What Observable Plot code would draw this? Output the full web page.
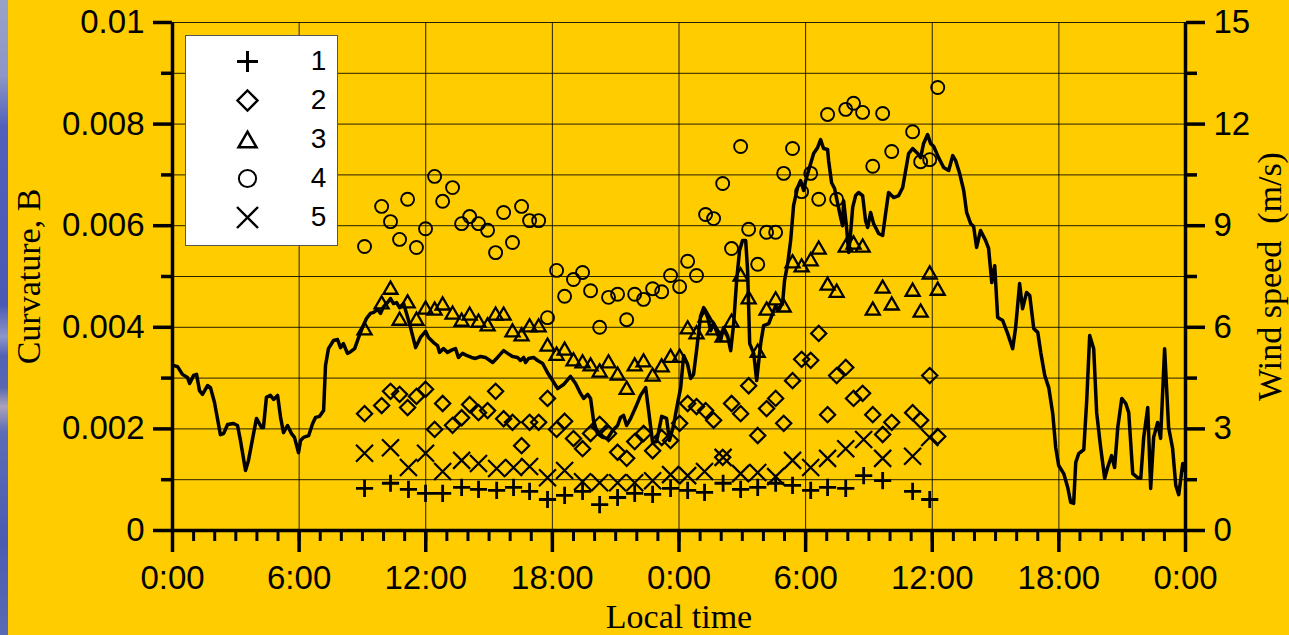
<!DOCTYPE html>
<html>
<head>
<meta charset="utf-8">
<script src="https://cdn.jsdelivr.net/npm/d3@7"></script>
<script src="https://cdn.jsdelivr.net/npm/@observablehq/plot@0.6"></script>
<style>
  html, body { margin: 0; padding: 0; background: #FFCC00; }
  #wrap { position: relative; width: 1289px; height: 635px; overflow: hidden; background: #FFCC00; }
  #strip {
    position: absolute; left: 0; top: 0; width: 8px; height: 635px;
    background: linear-gradient(to bottom, #9aa2c8 0%, #8d96c6 12%, #5060bb 20%, #4b59b6 48%,
      #8e96c9 53%, #5262b6 56%, #5967b2 61%, #aaa2b9 64%, #5d6cb6 68%, #4c5bb2 85%, #5a6ab4 100%);
  }
  #legend {
    position: absolute; left: 185px; top: 35px; width: 151px; height: 209px;
    background: #fff; border: 1px solid #555;
  }
  #legend svg { display: block; }
</style>
</head>
<body>
<div id="wrap"><div id="strip"></div><div id="legend"></div></div>
<script>
// ---- data -------------------------------------------------------------
const seriesNames = ["1", "2", "3", "4", "5"];

const timeLabels = ["0:00", "6:00", "12:00", "18:00", "0:00", "6:00", "12:00", "18:00", "0:00"];
const curvatureLabels = ["0", "0.002", "0.004", "0.006", "0.008", "0.01"];
const windLabels = ["0", "3", "6", "9", "12", "15"];

// sampling times (hours since the first midnight) for series 1 and 5
const hoursA = [9.10, 10.33, 11.18, 11.99, 12.80, 13.70, 14.50, 15.36, 16.16, 16.92,
  17.77, 18.58, 19.43, 20.24, 21.09, 21.90, 22.75, 23.60, 24.41, 25.21,
  26.09, 26.92, 27.73, 28.58, 29.38, 30.24, 31.04, 31.90, 32.75, 33.65,
  35.07, 35.88];

// sampling times for series 2, 3 and 4
const hoursB = [9.10, 9.91, 10.33, 10.76, 11.14, 11.56, 11.99, 12.42, 12.80, 13.27,
  13.70, 14.08, 14.50, 14.93, 15.31, 15.69, 16.11, 16.54, 16.92, 17.35,
  17.77, 18.20, 18.58, 19.00, 19.43, 19.81, 20.24, 20.66, 21.09, 21.52,
  21.90, 22.32, 22.75, 23.18, 23.60, 24.03, 24.41, 24.83, 25.26, 25.64,
  26.07, 26.49, 26.92, 27.30, 27.73, 28.15, 28.58, 28.96, 29.38, 29.81,
  30.24, 30.62, 31.04, 31.47, 31.90, 32.27, 32.70, 33.18, 33.65, 34.08,
  35.07, 35.45, 35.88, 36.26];

const curvature1 = [0.00083, 0.00093, 0.00081, 0.00073, 0.00073, 0.00085, 0.00081, 0.00079, 0.00085, 0.00077,
  0.00061, 0.00069, 0.00077, 0.00051, 0.00065, 0.00073, 0.00071, 0.00083, 0.00079, 0.00075,
  0.00093, 0.00081, 0.00085, 0.00093, 0.00089, 0.00079, 0.00085, 0.00083, 0.00108, 0.00098,
  0.00077, 0.00061];

const curvature2 = [0.00230, 0.00246, 0.00274, 0.00268, 0.00242, 0.00264, 0.00278, 0.00199, 0.00250, 0.00207,
  0.00222, 0.00248, 0.00232, 0.00236, 0.00274, 0.00220, 0.00213, 0.00167, 0.00213, 0.00213,
  0.00260, 0.00199, 0.00215, 0.00181, 0.00161, 0.00191, 0.00209, 0.00191, 0.00154, 0.00142,
  0.00175, 0.00191, 0.00157, 0.00183, 0.00177, 0.00211, 0.00250, 0.00244, 0.00236, 0.00217,
  0.00144, 0.00250, 0.00230, 0.00285, 0.00187, 0.00240, 0.00260, 0.00211, 0.00295, 0.00337,
  0.00335, 0.00388, 0.00228, 0.00305, 0.00321, 0.00260, 0.00270, 0.00228, 0.00189, 0.00213,
  0.00232, 0.00217, 0.00305, 0.00185];

const curvature3 = [0.00398, 0.00449, 0.00478, 0.00417, 0.00451, 0.00417, 0.00439, 0.00437, 0.00447, 0.00429,
  0.00415, 0.00427, 0.00413, 0.00406, 0.00427, 0.00427, 0.00394, 0.00386, 0.00404, 0.00404,
  0.00366, 0.00348, 0.00358, 0.00337, 0.00333, 0.00327, 0.00315, 0.00333, 0.00309, 0.00281,
  0.00327, 0.00335, 0.00307, 0.00325, 0.00344, 0.00344, 0.00400, 0.00390, 0.00423, 0.00398,
  0.00384, 0.00413, 0.00504, 0.00459, 0.00354, 0.00437, 0.00457, 0.00443, 0.00530, 0.00522,
  0.00534, 0.00557, 0.00486, 0.00472, 0.00561, 0.00567, 0.00561, 0.00437, 0.00480, 0.00447,
  0.00474, 0.00433, 0.00508, 0.00476];

const curvature4 = [0.00559, 0.00638, 0.00608, 0.00573, 0.00652, 0.00557, 0.00594, 0.00697, 0.00648, 0.00675,
  0.00604, 0.00618, 0.00604, 0.00591, 0.00547, 0.00626, 0.00567, 0.00638, 0.00610, 0.00610,
  0.00419, 0.00512, 0.00461, 0.00494, 0.00508, 0.00472, 0.00400, 0.00459, 0.00465, 0.00415,
  0.00465, 0.00455, 0.00476, 0.00470, 0.00502, 0.00480, 0.00530, 0.00502, 0.00622, 0.00614,
  0.00683, 0.00555, 0.00756, 0.00593, 0.00524, 0.00587, 0.00587, 0.00703, 0.00752, 0.00667,
  0.00703, 0.00652, 0.00819, 0.00652, 0.00829, 0.00841, 0.00823, 0.00717, 0.00821, 0.00746,
  0.00785, 0.00726, 0.00730, 0.00872];

const curvature5 = [0.00152, 0.00163, 0.00124, 0.00152, 0.00116, 0.00138, 0.00132, 0.00122, 0.00124, 0.00126,
  0.00104, 0.00118, 0.00096, 0.00094, 0.00094, 0.00094, 0.00098, 0.00110, 0.00108, 0.00116,
  0.00144, 0.00112, 0.00114, 0.00106, 0.00138, 0.00124, 0.00142, 0.00161, 0.00179, 0.00142,
  0.00146, 0.00183];

// wind speed record (m/s)
const windHours = [0.05, 0.24, 0.47, 0.71, 0.81, 1.00, 1.14, 1.28, 1.42, 1.66,
  1.80, 1.99, 2.27, 2.42, 2.61, 2.89, 3.08, 3.22, 3.46, 3.60,
  3.84, 3.98, 4.22, 4.31, 4.45, 4.64, 4.79, 4.98, 5.12, 5.26,
  5.45, 5.64, 5.78, 5.97, 6.07, 6.21, 6.45, 6.64, 6.78, 6.97,
  7.16, 7.25, 7.39, 7.63, 7.82, 7.96, 8.10, 8.29, 8.44, 8.63,
  8.82, 9.00, 9.19, 9.38, 9.53, 9.72, 9.86, 10.00, 10.19, 10.33,
  10.47, 10.62, 10.76, 10.95, 11.09, 11.28, 11.52, 11.75, 11.99, 12.13,
  12.37, 12.56, 12.65, 12.84, 13.03, 13.27, 13.41, 13.55, 13.74, 13.93,
  14.17, 14.36, 14.60, 14.83, 15.17, 15.40, 15.69, 15.88, 16.11, 16.35,
  16.49, 16.64, 16.73, 16.87, 17.11, 17.30, 17.54, 17.77, 18.01, 18.25,
  18.53, 18.86, 19.10, 19.34, 19.48, 19.67, 19.81, 19.95, 20.14, 20.38,
  20.62, 20.85, 21.09, 21.23, 21.37, 21.52, 21.71, 21.94, 22.18, 22.42,
  22.56, 22.75, 22.94, 23.18, 23.41, 23.55, 23.74, 23.93, 24.08, 24.22,
  24.41, 24.55, 24.69, 24.83, 25.02, 25.17, 25.36, 25.50, 25.64, 25.83,
  25.97, 26.11, 26.30, 26.45, 26.59, 26.73, 26.87, 27.01, 27.16, 27.25,
  27.35, 27.54, 27.68, 27.87, 28.01, 28.25, 28.44, 28.58, 28.72, 28.91,
  29.00, 29.15, 29.29, 29.43, 29.62, 29.76, 29.91, 30.00, 30.14, 30.38,
  30.57, 30.71, 30.85, 31.04, 31.09, 31.23, 31.37, 31.52, 31.66, 31.75,
  31.80, 31.94, 32.04, 32.13, 32.23, 32.37, 32.51, 32.70, 32.84, 32.94,
  33.08, 33.22, 33.46, 33.65, 33.79, 33.93, 34.17, 34.41, 34.60, 34.74,
  34.88, 35.07, 35.31, 35.45, 35.59, 35.78, 35.92, 36.07, 36.30, 36.54,
  36.78, 36.97, 37.11, 37.30, 37.49, 37.63, 37.82, 37.96, 38.10, 38.29,
  38.53, 38.67, 38.82, 38.96, 39.10, 39.34, 39.57, 39.81, 39.95, 40.14,
  40.28, 40.47, 40.62, 40.81, 41.00, 41.14, 41.33, 41.52, 41.71, 41.85,
  41.99, 42.23, 42.42, 42.56, 42.70, 42.80, 42.94, 43.18, 43.32, 43.46,
  43.65, 43.79, 43.98, 44.17, 44.31, 44.50, 44.64, 44.79, 44.98, 45.17,
  45.31, 45.50, 45.73, 45.88, 46.02, 46.21, 46.35, 46.49, 46.68, 46.82,
  47.01, 47.20, 47.39, 47.54, 47.68, 47.87, 47.96];

const windSpeed = [4.87, 4.84, 4.61, 4.52, 4.34, 4.58, 4.61, 4.13, 4.02, 4.28,
  4.22, 3.78, 2.83, 2.86, 3.13, 3.16, 3.10, 2.66, 1.77, 2.07,
  2.86, 3.31, 3.04, 3.04, 3.93, 3.99, 3.87, 3.99, 3.34, 2.89,
  3.10, 2.86, 2.75, 2.30, 2.66, 2.75, 2.80, 3.16, 3.34, 3.37,
  3.54, 4.87, 5.37, 5.61, 5.64, 5.40, 5.52, 5.23, 5.28, 5.37,
  5.70, 5.99, 6.26, 6.41, 6.44, 6.53, 6.41, 6.61, 6.73, 6.85,
  6.70, 6.73, 6.58, 6.70, 6.41, 5.99, 5.40, 5.70, 5.88, 5.70,
  5.55, 5.46, 5.26, 5.37, 5.26, 5.34, 5.37, 5.11, 5.23, 5.17,
  5.11, 5.08, 5.14, 5.11, 4.96, 5.11, 5.31, 5.23, 5.14, 5.11,
  5.02, 5.11, 4.96, 5.08, 5.11, 5.02, 4.93, 4.66, 4.43, 4.19,
  4.31, 4.55, 4.34, 4.04, 3.90, 4.02, 3.90, 3.25, 2.86, 2.75,
  2.72, 2.95, 3.10, 3.34, 3.40, 3.10, 3.31, 3.63, 3.99, 4.22,
  3.54, 2.60, 2.63, 3.37, 3.31, 2.66, 3.10, 3.75, 4.22, 5.17,
  4.90, 4.49, 4.61, 5.31, 6.32, 6.58, 6.29, 5.90, 6.11, 5.79,
  5.61, 5.99, 5.76, 5.31, 6.11, 7.38, 8.27, 8.56, 8.56, 7.68,
  5.52, 5.23, 4.43, 5.52, 6.05, 6.11, 6.41, 6.64, 6.50, 6.73,
  7.38, 7.88, 8.56, 9.60, 10.13, 10.33, 10.04, 10.33, 10.63, 11.13,
  11.31, 11.54, 11.28, 11.25, 10.92, 10.27, 10.10, 9.65, 9.24, 9.00,
  9.74, 8.95, 8.21, 8.77, 9.54, 9.89, 9.98, 9.89, 9.15, 8.95,
  9.39, 9.06, 8.77, 8.71, 9.36, 9.98, 9.83, 9.89, 10.13, 10.63,
  11.13, 11.28, 11.13, 11.01, 11.43, 11.69, 11.43, 11.34, 11.01, 10.72,
  10.63, 11.07, 10.92, 10.54, 10.04, 9.39, 9.06, 8.98, 8.36, 8.86,
  8.56, 8.33, 7.32, 7.82, 6.29, 6.20, 5.82, 5.37, 5.99, 7.29,
  6.55, 7.03, 6.94, 5.96, 5.85, 5.26, 4.58, 4.22, 3.45, 2.45,
  1.92, 1.68, 1.27, 0.83, 0.80, 2.01, 2.27, 2.39, 3.84, 5.76,
  5.37, 3.48, 2.45, 1.54, 1.86, 2.21, 1.86, 3.04, 3.90, 3.75,
  3.48, 1.68, 1.56, 1.54, 2.75, 3.63, 1.24, 2.75, 3.19, 2.72,
  5.37, 3.04, 2.42, 1.33, 1.06, 1.98, 1.77];

// ---- marker shapes (r = half-width in px) ---------------------------------
const half = size => Math.sqrt(size / Math.PI);
const shapePlus = {draw(c, size) { const r = half(size); c.moveTo(-r, 0); c.lineTo(r, 0); c.moveTo(0, -r); c.lineTo(0, r); }};
const shapeDiamond = {draw(c, size) { const r = half(size); c.moveTo(0, -r); c.lineTo(r, 0); c.lineTo(0, r); c.lineTo(-r, 0); c.closePath(); }};
const shapeTriangle = {draw(c, size) { const r = half(size), h = r * Math.sqrt(3) / 2; c.moveTo(0, -h); c.lineTo(r, h); c.lineTo(-r, h); c.closePath(); }};
const shapeCircle = {draw(c, size) { const r = half(size); c.moveTo(r, 0); c.arc(0, 0, r, 0, 2 * Math.PI); }};
const shapeTimes = {draw(c, size) { const r = half(size); c.moveTo(-r, -r); c.lineTo(r, r); c.moveTo(-r, r); c.lineTo(r, -r); }};

// per-series drawing style: shape, plot size, legend size, stroke widths
const seriesStyle = [
  {shape: shapePlus,     r: 8.6, lr: 10.5, sw: 2.8, lsw: 3.0},
  {shape: shapeDiamond,  r: 7.6, lr: 10.0, sw: 2.2, lsw: 2.4},
  {shape: shapeTriangle, r: 7.0, lr: 9.0,  sw: 2.3, lsw: 2.5},
  {shape: shapeCircle,   r: 6.5, lr: 8.6,  sw: 1.9, lsw: 2.0},
  {shape: shapeTimes,    r: 8.5, lr: 10.5, sw: 2.2, lsw: 2.4}
];

// ---- chart --------------------------------------------------------------
const SANS = "'Liberation Sans', Arial, Helvetica, sans-serif";
const SERIF = "'Liberation Serif', 'Times New Roman', Times, serif";
const WIND_MAX = 15;          // right axis top (m/s)
const CURV_MAX = 0.01;        // left axis top
const toCurv = w => w * CURV_MAX / WIND_MAX;

const seriesValues = [curvature1, curvature2, curvature3, curvature4, curvature5];
const seriesHours = [hoursA, hoursB, hoursB, hoursB, hoursA];
const seriesPoints = seriesNames.map((name, s) =>
  seriesValues[s].map((v, i) => ({series: name, hour: seriesHours[s][i], value: v})));
const wind = windHours.map((h, i) => ({hour: h, speed: windSpeed[i]}));

const thousandths = d3.range(0, 11).map(i => i / 1000);
const windTicks = d3.range(0, 16, 3);
const windMinor = d3.range(1.5, 15, 3);

const chart = Plot.plot({
  width: 1289,
  height: 635,
  marginLeft: 172,
  marginRight: 104,
  marginTop: 22,
  marginBottom: 105,
  style: {background: "#FFCC00", color: "#000", fontFamily: SANS, fontSize: "33px", overflow: "visible"},
  x: {domain: [0, 48]},
  y: {domain: [0, CURV_MAX]},
  marks: [
    Plot.gridX(d3.range(6, 48, 6), {stroke: "#000", strokeOpacity: 0.85, strokeWidth: 1}),
    Plot.gridY(thousandths.slice(1), {stroke: "#000", strokeOpacity: 0.85, strokeWidth: 1}),

    // bottom axis: 6-hour labels plus hourly minor ticks
    Plot.axisX(d3.range(0, 49, 6), {
      tickSize: 22, tickPadding: 13, strokeWidth: 3.5, label: null,
      tickFormat: d => timeLabels[Math.round(d / 6)], fontSize: 33, fontFamily: SANS
    }),
    Plot.axisX(d3.range(0, 49, 1), {tickSize: 11, strokeWidth: 3, label: null, tickFormat: () => ""}),

    // left axis: curvature
    Plot.axisY(thousandths.filter((d, i) => i % 2 === 0), {
      tickSize: 19, tickPadding: 9, strokeWidth: 3.5, label: null,
      tickFormat: d => curvatureLabels[Math.round(d * 500)], fontSize: 33, fontFamily: SANS
    }),
    Plot.axisY(thousandths.filter((d, i) => i % 2 === 1), {
      tickSize: 11, strokeWidth: 3.5, label: null, tickFormat: () => ""
    }),

    // right axis: wind speed
    Plot.axisY(windTicks.map(toCurv), {
      anchor: "right", tickSize: 19, tickPadding: 9, strokeWidth: 3.5, label: null,
      tickFormat: d => windLabels[Math.round(d * WIND_MAX / CURV_MAX / 3)], fontSize: 33, fontFamily: SANS
    }),
    Plot.axisY(windMinor.map(toCurv), {
      anchor: "right", tickSize: 11, strokeWidth: 3.5, label: null, tickFormat: () => ""
    }),

    // axis lines
    Plot.ruleX([0, 48], {stroke: "#000", strokeWidth: 3.5}),
    Plot.ruleY([0], {stroke: "#000", strokeWidth: 3.5}),

    // wind speed trace
    Plot.line(wind, {x: "hour", y: d => toCurv(d.speed), stroke: "#000", strokeWidth: 3.5, strokeLinejoin: "round"}),

    // curvature samples, one mark per series
    ...seriesPoints.map((pts, s) => Plot.dot(pts, {
      x: "hour", y: "value", symbol: seriesStyle[s].shape, r: seriesStyle[s].r,
      stroke: "#000", fill: "none", strokeWidth: seriesStyle[s].sw
    })),

    // axis titles
    Plot.text(["Curvature, B"], {
      frameAnchor: "left", dx: -143, rotate: -90, textAnchor: "middle", lineAnchor: "middle",
      fontFamily: SERIF, fontSize: 34, fill: "#000"
    }),
    Plot.text(["Wind speed\u00a0 (m/s)"], {
      frameAnchor: "right", dx: 85, rotate: -90, textAnchor: "middle", lineAnchor: "middle",
      fontFamily: SERIF, fontSize: 34, fill: "#000"
    }),
    Plot.text(["Local time"], {
      frameAnchor: "bottom", dy: 87, textAnchor: "middle", lineAnchor: "middle",
      fontFamily: SERIF, fontSize: 34, fill: "#000"
    })
  ]
});
const wrap = document.getElementById("wrap");
wrap.insertBefore(chart, document.getElementById("strip"));
chart.style.position = "absolute";
chart.style.left = "0";
chart.style.top = "0";

// ---- legend ---------------------------------------------------------------
const legend = Plot.plot({
  width: 151,
  height: 209,
  margin: 0,
  style: {background: "#fff", overflow: "visible"},
  x: {type: "point", domain: ["symbol", "name"], range: [61, 132], padding: 0, axis: null},
  y: {type: "point", domain: seriesNames, range: [24, 181], padding: 0, axis: null},
  marks: [
    ...seriesNames.map((name, s) => Plot.dot([name], {
      x: () => "symbol", y: d => d, symbol: seriesStyle[s].shape, r: seriesStyle[s].lr,
      stroke: "#000", fill: "none", strokeWidth: seriesStyle[s].lsw
    })),
    Plot.text(seriesNames, {x: () => "name", y: d => d, text: d => d, fontSize: 28, fontFamily: SANS, fill: "#000"})
  ]
});
document.getElementById("legend").appendChild(legend);
</script>
</body>
</html>
